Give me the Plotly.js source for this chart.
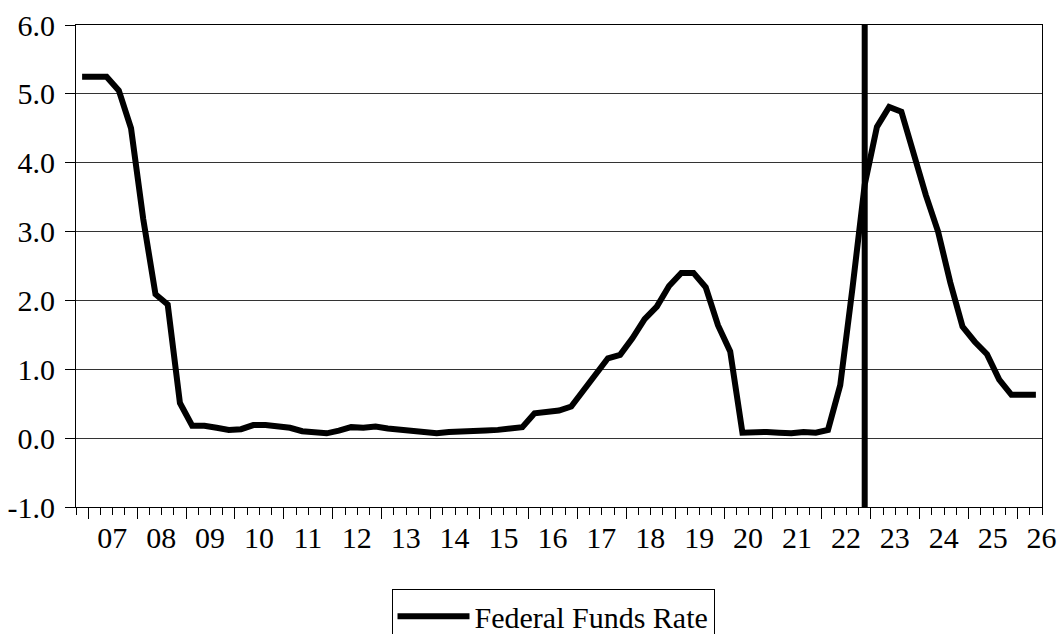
<!DOCTYPE html>
<html>
<head>
<meta charset="utf-8">
<script src="https://cdn.plot.ly/plotly-3.0.1.min.js"></script>
<style>
  html, body { margin: 0; padding: 0; background: #ffffff; }
  #chart { width: 1061px; height: 634px; }
</style>
</head>
<body>
<div id="chart"></div>
<script>
// ---- Data (quarterly, first quarter 2006Q4) ----
const firstYear = 2006;
const firstQuarter = 4;
const seriesName = "Federal Funds Rate";
const fedFunds = [
  5.25,
  5.25, 5.25, 5.05, 4.50,   // 2007
  3.18, 2.09, 1.94, 0.51,   // 2008
  0.18, 0.18, 0.15, 0.12,   // 2009
  0.13, 0.19, 0.19, 0.18,   // 2010
  0.15, 0.10, 0.08, 0.07,   // 2011
  0.11, 0.16, 0.15, 0.17,   // 2012
  0.14, 0.12, 0.09, 0.09,   // 2013
  0.07, 0.09, 0.09, 0.10,   // 2014
  0.11, 0.12, 0.13, 0.16,   // 2015
  0.36, 0.38, 0.40, 0.46,   // 2016
  0.69, 0.94, 1.16, 1.21,   // 2017
  1.45, 1.73, 1.91, 2.21,   // 2018
  2.40, 2.40, 2.19, 1.64,   // 2019
  1.26, 0.08, 0.09, 0.09,   // 2020
  0.08, 0.07, 0.09, 0.08,   // 2021
  0.12, 0.77, 2.18, 3.68,   // 2022
  4.52, 4.81, 4.74, 4.11,   // 2023
  3.53, 3.00, 2.26, 1.62,   // 2024
  1.40, 1.22, 0.85, 0.63,   // 2025
  0.63, 0.63                // 2026
];
const markerQuarter = "2022Q4";
const yearLabels = ["07","08","09","10","11","12","13","14","15","16",
                    "17","18","19","20","21","22","23","24","25","26"];
const labelYears = [2007,2008,2009,2010,2011,2012,2013,2014,2015,2016,
                    2017,2018,2019,2020,2021,2022,2023,2024,2025,2026];

// quarter labels
const quarters = [];
{
  let y = firstYear, q = firstQuarter;
  for (let i = 0; i < fedFunds.length; i++) {
    quarters.push(y + "Q" + q);
    q++; if (q > 4) { q = 1; y++; }
  }
}
// map a quarter label to its mid-quarter position on a year scale
function quarterPos(label) {
  const y = parseInt(label.slice(0, 4), 10);
  const q = parseInt(label.slice(5), 10);
  return y + (q - 1) / 4 + 0.125;
}
const xPos = quarters.map(quarterPos);

const alias = {};
labelYears.forEach((yr, i) => { alias[String(yr)] = yearLabels[i]; });
alias["−1.0"] = "-1.0";

const FONT = "Liberation Serif";
const FSIZE = 30;

const trace = {
  type: "scatter",
  mode: "lines",
  x: xPos,
  y: fedFunds,
  name: seriesName,
  line: { color: "#000000", width: 6 },
  hoverinfo: "skip"
};

const layout = {
  width: 1061,
  height: 634,
  margin: { l: 76, r: 19, t: 25, b: 127 },
  paper_bgcolor: "#ffffff",
  plot_bgcolor: "#ffffff",
  font: { family: FONT, size: FSIZE, color: "#000000" },
  showlegend: true,
  legend: {
    orientation: "h",
    xref: "container", yref: "container",
    x: 0.369, xanchor: "left",
    y: 0.0705, yanchor: "top",
    itemwidth: 72,
    bordercolor: "#000000",
    borderwidth: 1,
    bgcolor: "#ffffff",
    font: { family: FONT, size: FSIZE, color: "#000000" }
  },
  xaxis: {
    type: "linear",
    range: [2006.75, 2026.5],
    tickmode: "linear",
    tick0: 2007,
    dtick: 1,
    labelalias: alias,
    ticks: "outside",
    ticklen: 11,
    tickwidth: 1,
    tickcolor: "#000000",
    ticklabelshift: 24,
    ticklabelstandoff: -7,
    minor: { tickmode: "linear", tick0: 2006.75, dtick: 0.25, ticks: "outside", ticklen: 7, tickwidth: 1, tickcolor: "#000000", showgrid: false },
    showgrid: false,
    zeroline: false,
    showline: true,
    mirror: true,
    linecolor: "#000000",
    linewidth: 1,
    tickfont: { family: FONT, size: FSIZE, color: "#000000" },
    fixedrange: true,
    automargin: false
  },
  yaxis: {
    range: [-1, 6],
    tickmode: "linear",
    tick0: -1,
    dtick: 1,
    tickformat: ".1f",
    labelalias: alias,
    ticks: "outside",
    ticklen: 10,
    tickwidth: 1,
    tickcolor: "#000000",
    ticklabelstandoff: 4,
    showgrid: true,
    gridcolor: "#333333",
    gridwidth: 1,
    zeroline: false,
    showline: true,
    mirror: true,
    linecolor: "#000000",
    linewidth: 1,
    tickfont: { family: FONT, size: FSIZE, color: "#000000" },
    fixedrange: true,
    automargin: false
  },
  shapes: [{
    type: "line",
    xref: "x", yref: "paper",
    x0: quarterPos(markerQuarter), x1: quarterPos(markerQuarter),
    y0: 0, y1: 1,
    line: { color: "#000000", width: 6 },
    layer: "above"
  }]
};

Plotly.newPlot("chart", [trace], layout, { displayModeBar: false, staticPlot: true });
</script>
</body>
</html>
